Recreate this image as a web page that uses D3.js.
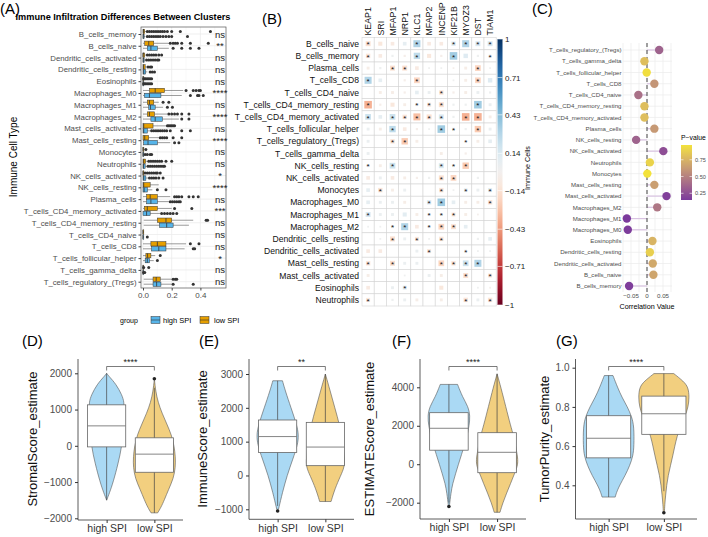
<!DOCTYPE html>
<html>
<head>
<meta charset="utf-8">
<script src="https://cdn.jsdelivr.net/npm/d3@7"></script>
<style>
body { margin: 0; background: #fff; }
svg { font-family: "Liberation Sans", Arial, sans-serif; }
</style>
</head>
<body>
<script>
// ---------- panel A : CIBERSORT boxplots ----------
var aCells = ["B_cells_memory", "B_cells_naive", "Dendritic_cells_activated", "Dendritic_cells_resting", "Eosinophils",
    "Macrophages_M0", "Macrophages_M1", "Macrophages_M2", "Mast_cells_activated", "Mast_cells_resting", "Monocytes",
    "Neutrophils", "NK_cells_activated", "NK_cells_resting", "Plasma_cells", "T_cells_CD4_memory_activated",
    "T_cells_CD4_memory_resting", "T_cells_CD4_naive", "T_cells_CD8", "T_cells_follicular_helper",
    "T_cells_gamma_delta", "T_cells_regulatory_(Tregs)"];
var aSig = ["ns", "**", "ns", "ns", "ns", "****", "ns", "****", "ns", "****", "ns", "ns", "*", "****", "ns", "***",
    "ns", "ns", "ns", "*", "ns", "ns"];
// [lower whisker, q1, median, q3, upper whisker]
var aLowBox = [[0, 0, 0.003, 0.012, 0.02], [0, 0.012, 0.04, 0.075, 0.18], [0, 0, 0, 0.012, 0.02], [0, 0, 0.003, 0.015, 0.025],
    [0, 0, 0, 0, 0], [0, 0.045, 0.085, 0.15, 0.28], [0, 0.03, 0.045, 0.075, 0.11], [0, 0.03, 0.045, 0.08, 0.17],
    [0, 0, 0.005, 0.07, 0.16], [0, 0, 0.012, 0.04, 0.11], [0, 0, 0, 0.006, 0.012], [0, 0, 0.005, 0.018, 0.03],
    [0, 0, 0, 0.006, 0.012], [0, 0, 0.005, 0.05, 0.11], [0, 0.025, 0.05, 0.1, 0.19], [0, 0.01, 0.03, 0.1, 0.2],
    [0.005, 0.1, 0.16, 0.2, 0.35], [0, 0, 0, 0, 0], [0, 0.055, 0.1, 0.16, 0.3], [0, 0.02, 0.032, 0.055, 0.085],
    [0, 0, 0, 0, 0], [0.005, 0.07, 0.092, 0.12, 0.2]];
var aHighBox = [[0, 0, 0.002, 0.008, 0.015], [0, 0.03, 0.055, 0.1, 0.18], [0, 0, 0.002, 0.008, 0.015], [0, 0, 0.005, 0.018, 0.03],
    [0, 0, 0, 0, 0], [0, 0.01, 0.045, 0.125, 0.27], [0, 0.04, 0.052, 0.085, 0.14], [0, 0.055, 0.085, 0.135, 0.25],
    [0, 0, 0.005, 0.03, 0.05], [0, 0.005, 0.035, 0.1, 0.19], [0, 0, 0, 0.005, 0.01], [0, 0, 0.003, 0.015, 0.025],
    [0, 0, 0.005, 0.02, 0.035], [0, 0, 0.008, 0.03, 0.065], [0, 0.025, 0.055, 0.1, 0.18], [0, 0, 0.025, 0.05, 0.12],
    [0.005, 0.115, 0.165, 0.21, 0.32], [0, 0, 0, 0, 0], [0, 0.06, 0.11, 0.16, 0.29], [0, 0.015, 0.03, 0.045, 0.075],
    [0, 0, 0, 0, 0], [0.005, 0.07, 0.095, 0.125, 0.2]];
var aLowOut = [[0.03, 0.045, 0.06, 0.075, 0.09, 0.105, 0.12, 0.135, 0.15, 0.17, 0.2, 0.26, 0.47],
    [0.19, 0.21, 0.225, 0.24, 0.27, 0.33, 0.455], [0.03, 0.045, 0.06, 0.075, 0.09, 0.11, 0.13], [0.035, 0.05, 0.06],
    [0.005, 0.012, 0.02, 0.03, 0.04, 0.05, 0.06], [0.3, 0.35, 0.37, 0.39, 0.4], [0.14, 0.18],
    [0.18, 0.2, 0.22, 0.24, 0.27, 0.32], [0.17, 0.18, 0.19, 0.2, 0.21, 0.22], [0.12, 0.135, 0.15, 0.165, 0.21, 0.27],
    [0.02], [0.04, 0.055, 0.07, 0.085, 0.1, 0.115, 0.13, 0.16, 0.2], [0.015, 0.03, 0.045, 0.06, 0.075, 0.09, 0.1, 0.12],
    [], [0.22, 0.235, 0.25, 0.27, 0.32, 0.35, 0.385], [0.22, 0.34], [0.44, 0.45], [], [0.33, 0.39], [0.12],
    [0.005, 0.04], [0.21, 0.225, 0.235]];
var aHighOut = [[0.03, 0.045, 0.06, 0.075, 0.09, 0.105, 0.12, 0.14, 0.16, 0.18, 0.2, 0.31],
    [0.21, 0.27, 0.33, 0.39], [0.025, 0.04, 0.055, 0.07, 0.085, 0.1, 0.11], [0.05, 0.065, 0.08],
    [0.005, 0.012, 0.02, 0.03, 0.04, 0.05, 0.06], [0.33, 0.38, 0.39, 0.42], [0.17, 0.205], [0.27, 0.32],
    [0.06, 0.075, 0.09, 0.105, 0.12, 0.135, 0.15, 0.165, 0.19, 0.27, 0.33], [0.22, 0.25],
    [0.015, 0.03, 0.05, 0.06], [0.035, 0.05, 0.065, 0.08, 0.095, 0.11, 0.125, 0.14, 0.15],
    [0.045, 0.06, 0.075, 0.09, 0.11, 0.14], [0.1, 0.16], [0.19, 0.205, 0.22, 0.235, 0.25, 0.26],
    [0.13, 0.15, 0.17, 0.19, 0.21, 0.235], [], [0.03], [0.35, 0.36], [0.1], [0.005, 0.012], [0.21, 0.35]];
var aTicks = [0, 0.2, 0.4];

// ---------- panel B : correlation matrix ----------
var bGenes = ["KEAP1", "SRI", "MFAP1", "NRP1", "KLC1", "MFAP2", "INCENP", "KIF21B", "MYOZ3", "DST", "TIAM1"];
var bCells = ["B_cells_naive", "B_cells_memory", "Plasma_cells", "T_cells_CD8", "T_cells_CD4_naive",
    "T_cells_CD4_memory_resting", "T_cells_CD4_memory_activated", "T_cells_follicular_helper",
    "T_cells_regulatory_(Tregs)", "T_cells_gamma_delta", "NK_cells_resting", "NK_cells_activated", "Monocytes",
    "Macrophages_M0", "Macrophages_M1", "Macrophages_M2", "Dendritic_cells_resting", "Dendritic_cells_activated",
    "Mast_cells_resting", "Mast_cells_activated", "Eosinophils", "Neutrophils"];
var bCorr = [
    [-0.15, -0.1, -0.08, 0.08, 0.3, -0.08, -0.08, 0.12, 0.3, 0.15, 0.15],
    [-0.12, -0.08, 0.03, -0.03, 0.25, -0.1, -0.03, 0.35, 0.12, 0.03, 0.05],
    [-0.05, 0.03, -0.15, -0.15, -0.08, 0.02, 0.02, -0.02, -0.05, -0.2, 0.02],
    [0.3, 0.08, 0, -0.03, -0.2, 0, 0, 0.02, -0.05, -0.2, 0.12],
    [0, -0.05, -0.05, -0.03, 0.08, 0.05, -0.12, -0.03, -0.05, 0.05, 0.03],
    [-0.35, -0.03, -0.1, -0.05, 0.05, -0.1, -0.15, 0.03, 0.03, 0.35, 0.05],
    [0.2, 0.08, 0.2, -0.12, -0.3, -0.15, 0.15, 0.03, -0.35, -0.35, -0.05],
    [0.05, -0.05, 0.25, -0.08, -0.03, 0.02, 0.35, 0.05, 0.03, -0.25, 0.05],
    [0.05, 0, -0.12, -0.25, -0.05, 0, 0, 0, 0.03, -0.05, 0.08],
    [0.05, 0, 0, 0, 0, 0, -0.05, 0, -0.03, 0, 0],
    [0.05, -0.05, 0.2, 0, 0, 0, 0.15, 0.05, -0.25, 0, 0],
    [-0.08, 0.05, -0.08, -0.05, -0.03, 0.03, -0.15, -0.2, 0, 0.03, 0],
    [0.08, -0.12, -0.05, 0.05, 0, 0, -0.12, 0.02, 0.08, 0.05, 0.1],
    [0.08, 0.05, 0.05, -0.05, 0, 0.12, 0.35, 0.08, -0.05, -0.05, -0.12],
    [0.15, 0.05, 0.05, 0.1, -0.05, 0.05, 0.05, -0.1, -0.05, -0.02, 0],
    [0.02, 0.02, 0.05, 0.3, -0.08, 0.05, -0.2, -0.15, 0.08, 0, 0],
    [0, 0.02, -0.15, 0.05, -0.1, 0.02, -0.12, 0, 0, 0.03, 0.08],
    [-0.08, -0.08, 0, 0, 0.05, -0.1, 0, 0, 0.05, 0.02, 0.02],
    [-0.12, 0, -0.15, 0.05, 0.05, 0, -0.2, -0.12, 0.2, 0.3, 0],
    [-0.05, 0, 0, 0.02, 0, 0.05, -0.05, 0, -0.15, 0, -0.1],
    [-0.08, 0, 0.05, 0.1, 0, 0, -0.1, 0, 0, 0.02, -0.02],
    [-0.1, 0, 0.03, 0.05, -0.05, 0, -0.05, 0, -0.12, 0.05, -0.12]];
var bStar = [
    [1, 0, 0, 0, 1, 0, 0, 1, 1, 1, 1], [1, 0, 0, 0, 1, 0, 0, 1, 0, 0, 1], [0, 0, 1, 1, 0, 0, 0, 0, 0, 1, 0],
    [1, 0, 0, 0, 1, 0, 0, 0, 0, 1, 0], [0, 0, 0, 0, 0, 0, 1, 0, 0, 0, 0], [1, 0, 0, 0, 1, 1, 1, 0, 0, 1, 0],
    [1, 0, 1, 1, 1, 1, 1, 0, 1, 1, 0], [0, 0, 1, 0, 0, 0, 1, 1, 0, 1, 0], [0, 0, 1, 1, 0, 0, 0, 0, 1, 0, 0],
    [0, 0, 0, 0, 0, 0, 0, 0, 0, 0, 0], [1, 0, 1, 0, 0, 0, 1, 1, 1, 0, 0], [0, 0, 0, 0, 0, 0, 1, 1, 0, 0, 0],
    [0, 1, 0, 0, 0, 0, 1, 0, 1, 0, 1], [0, 0, 0, 0, 0, 1, 1, 0, 0, 0, 1], [1, 0, 0, 0, 0, 1, 1, 1, 0, 0, 0],
    [0, 0, 1, 1, 0, 1, 1, 1, 0, 0, 0], [0, 0, 1, 0, 1, 0, 1, 0, 0, 0, 0], [0, 0, 0, 0, 0, 1, 0, 0, 1, 0, 0],
    [1, 0, 1, 0, 0, 0, 1, 1, 1, 1, 0], [0, 0, 0, 0, 0, 0, 0, 0, 1, 0, 1], [0, 0, 0, 1, 0, 0, 0, 0, 0, 0, 0],
    [1, 0, 0, 0, 0, 0, 0, 0, 1, 0, 1]];
var bBarTicks = [1, 0.71, 0.43, 0.14, -0.14, -0.43, -0.71, -1];

// ---------- panel C : lollipop ----------
var cCells = ["T_cells_regulatory_(Tregs)", "T_cells_gamma_delta", "T_cells_follicular_helper", "T_cells_CD8",
    "T_cells_CD4_naive", "T_cells_CD4_memory_resting", "T_cells_CD4_memory_activated", "Plasma_cells",
    "NK_cells_resting", "NK_cells_activated", "Neutrophils", "Monocytes", "Mast_cells_resting",
    "Mast_cells_activated", "Macrophages_M2", "Macrophages_M1", "Macrophages_M0", "Eosinophils",
    "Dendritic_cells_resting", "Dendritic_cells_activated", "B_cells_naive", "B_cells_memory"];
var cCorr = [0.038, -0.008, -0.001, 0.023, -0.027, -0.008, -0.008, 0.023, -0.034, 0.051, 0.009, 0.001, 0.023,
    0.061, 0.032, -0.063, -0.06, 0.017, 0.009, 0.018, 0.02, -0.056];
var cPval = [0.35, 0.8, 0.95, 0.6, 0.42, 0.8, 0.8, 0.62, 0.35, 0.25, 0.9, 0.97, 0.65, 0.18, 0.45, 0.15, 0.16,
    0.75, 0.88, 0.7, 0.68, 0.17];
var cTicks = [-0.05, 0, 0.05];
var cLegTicks = [0.75, 0.5, 0.25];

// ---------- panels D-G : ESTIMATE violins ----------
var groups = ["high SPI", "low SPI"];
// [value, relative density]
var dHighDens = [[2000, 0], [1900, 0.13], [1700, 0.43], [1400, 0.7], [1200, 0.8], [1000, 0.78], [500, 0.76], [0, 0.7],
    [-500, 0.52], [-1000, 0.3], [-1300, 0.13], [-1500, 0]];
var dLowDens = [[1850, 0], [1500, 0.06], [1200, 0.17], [900, 0.35], [600, 0.57], [300, 0.78], [0, 0.9], [-300, 0.96],
    [-600, 0.96], [-900, 0.87], [-1200, 0.65], [-1500, 0.45], [-1700, 0.3], [-1850, 0.15]];
var eHighDens = [[2800, 0.22], [2500, 0.35], [2000, 0.61], [1500, 0.87], [1200, 0.96], [900, 0.91], [500, 0.7],
    [0, 0.43], [-500, 0.22], [-1000, 0.04]];
var eLowDens = [[3000, 0], [2500, 0.22], [2000, 0.43], [1500, 0.65], [1000, 0.78], [500, 0.87], [250, 0.87],
    [0, 0.7], [-400, 0.43], [-770, 0.26]];
var fHighDens = [[4150, 0.39], [3500, 0.61], [3000, 0.87], [2500, 0.96], [2000, 0.91], [1500, 0.83], [1000, 0.7],
    [500, 0.57], [0, 0.43], [-500, 0.3], [-1000, 0.17], [-1500, 0.09], [-2200, 0.02]];
var fLowDens = [[4700, 0], [4000, 0.17], [3000, 0.39], [2000, 0.61], [1500, 0.74], [1000, 0.83], [500, 0.91],
    [0, 0.96], [-500, 0.78], [-1000, 0.61], [-1500, 0.43], [-2000, 0.26], [-2500, 0.13]];
var gHighDens = [[0.96, 0.17], [0.9, 0.35], [0.85, 0.52], [0.8, 0.74], [0.75, 0.91], [0.7, 1], [0.6, 1], [0.55, 0.96],
    [0.5, 0.83], [0.45, 0.65], [0.4, 0.43], [0.36, 0.3], [0.34, 0.26]];
var gLowDens = [[0.97, 0.39], [0.93, 0.78], [0.9, 0.96], [0.85, 1], [0.8, 0.96], [0.75, 0.83], [0.7, 0.65],
    [0.65, 0.52], [0.6, 0.43], [0.55, 0.35], [0.5, 0.26], [0.45, 0.17], [0.4, 0.11], [0.35, 0.07], [0.3, 0.035],
    [0.26, 0.02]];
// [lower whisker, q1, median, q3, upper whisker]
var dBoxes = [[-1500, -30, 550, 1130, 2000], [-1850, -730, -230, 220, 1600]];
var eBoxes = [[-900, 680, 1150, 1640, 2800], [-770, 290, 840, 1570, 3000]];
var fBoxes = [[-2000, 730, 1870, 2680, 4150], [-2500, -440, 620, 1640, 4700]];
var gBoxes = [[0.34, 0.54, 0.64, 0.755, 0.96], [0.37, 0.66, 0.765, 0.855, 0.97]];
var dOut = [[], [1850]];
var eOut = [[-1050], []];
var fOut = [[-2200], []];
var gOut = [[], [0.26]];
var sigDEFG = ["****", "**", "****", "****"];

var highCol = "#56B4E9", lowCol = "#E69F00";
var svg = d3.select('body').append('svg').attr('width', 708).attr('height', 537);

// ================= Panel A =================
var gA = svg.append('g');
var aX = d3.scaleLinear().domain([0, 0.4]).range([143, 200.4]);
var aY = d3.scalePoint().domain(aCells).range([34, 281.7]);
var aL = 141, aR = 226, aT = 27, aB = 288;

gA.selectAll('.vgrid').data([0.1, 0.3, 0.5]).enter().append('line')
    .attr('x1', d => aX(d)).attr('x2', d => aX(d)).attr('y1', aT).attr('y2', aB)
    .attr('stroke', '#f2f2f2').attr('stroke-width', 0.5);
gA.selectAll('.vgrid2').data(aTicks).enter().append('line')
    .attr('x1', d => aX(d)).attr('x2', d => aX(d)).attr('y1', aT).attr('y2', aB)
    .attr('stroke', '#ebebeb').attr('stroke-width', 0.8);
gA.selectAll('.hgrid').data(aCells).enter().append('line')
    .attr('x1', aL).attr('x2', aR).attr('y1', d => aY(d)).attr('y2', d => aY(d))
    .attr('stroke', '#ebebeb').attr('stroke-width', 0.8);

function drawABox(stats, outs, y, fill) {
    var h = 4.4;
    gA.append('line').attr('x1', aX(stats[0])).attr('x2', aX(stats[1])).attr('y1', y).attr('y2', y)
        .attr('stroke', '#555').attr('stroke-width', 0.6);
    gA.append('line').attr('x1', aX(stats[3])).attr('x2', aX(stats[4])).attr('y1', y).attr('y2', y)
        .attr('stroke', '#555').attr('stroke-width', 0.6);
    gA.append('rect').attr('x', aX(stats[1])).attr('y', y - h / 2)
        .attr('width', Math.max(aX(stats[3]) - aX(stats[1]), 0.8)).attr('height', h)
        .attr('fill', fill).attr('stroke', '#333').attr('stroke-width', 0.5);
    gA.append('line').attr('x1', aX(stats[2])).attr('x2', aX(stats[2])).attr('y1', y - h / 2).attr('y2', y + h / 2)
        .attr('stroke', '#333').attr('stroke-width', 0.8);
    gA.append('g').selectAll('circle').data(outs).enter().append('circle')
        .attr('cx', d => aX(d)).attr('cy', y).attr('r', 1.5).attr('fill', '#333');
}
aCells.forEach(function (c, i) {
    drawABox(aLowBox[i], aLowOut[i], aY(c) - 2.5, lowCol);
    drawABox(aHighBox[i], aHighOut[i], aY(c) + 2.5, highCol);
});
gA.append('rect').attr('x', aL).attr('y', aT).attr('width', aR - aL).attr('height', aB - aT)
    .attr('fill', 'none').attr('stroke', '#555').attr('stroke-width', 0.7);
gA.selectAll('.sig').data(aSig).enter().append('text')
    .attr('x', 220).attr('y', (d, i) => aY(aCells[i]) + 3.5)
    .attr('text-anchor', 'middle').attr('font-size', 9.5).style('fill', '#222').text(d => d);
var aLeft = gA.append('g').attr('transform', 'translate(' + aL + ',0)').call(d3.axisLeft(aY).tickSize(2.5).tickPadding(2));
aLeft.select('.domain').remove();
aLeft.attr('font-family', null).attr('fill', null);
aLeft.selectAll('text').attr('font-size', 7.8).style('fill', '#4d4d4d');
aLeft.selectAll('line').style('stroke', '#444');
var aBottom = gA.append('g').attr('transform', 'translate(0,' + aB + ')')
    .call(d3.axisBottom(aX).tickValues(aTicks).tickFormat(d3.format('.1f')).tickSize(2.5).tickPadding(2));
aBottom.select('.domain').remove();
aBottom.attr('font-family', null).attr('fill', null);
aBottom.selectAll('text').attr('font-size', 8).style('fill', '#4d4d4d');
aBottom.selectAll('line').style('stroke', '#444');
gA.append('text').attr('transform', 'translate(17,157) rotate(-90)').attr('text-anchor', 'middle')
    .attr('font-size', 10).text('Immune Cell Type');
gA.append('text').attr('x', 123).attr('y', 20).attr('text-anchor', 'middle').attr('font-size', 9.2)
    .attr('font-weight', 'bold').text('Immune Infiltration Differences Between Clusters');
svg.append('text').attr('x', 0).attr('y', 14).attr('font-size', 15).text('(A)');

// legend
var leg = svg.append('g');
leg.append('text').attr('x', 120).attr('y', 323).attr('font-size', 7).text('group');
[[highCol, 151, 'high SPI', 163], [lowCol, 200, 'low SPI', 214]].forEach(function (k) {
    leg.append('rect').attr('x', k[1]).attr('y', 316.5).attr('width', 9).attr('height', 7)
        .attr('fill', k[0]).attr('stroke', '#333').attr('stroke-width', 0.5);
    leg.append('line').attr('x1', k[1]).attr('x2', k[1] + 9).attr('y1', 320).attr('y2', 320)
        .attr('stroke', '#333').attr('stroke-width', 0.6);
    leg.append('text').attr('x', k[3]).attr('y', 323).attr('font-size', 7.5).text(k[2]);
});

// ================= Panel B =================
var gB = svg.append('g');
var bX = d3.scaleBand().domain(bGenes).range([362, 496.2]);
var bY = d3.scaleBand().domain(bCells).range([37.6, 306]);
var bSize = d3.scaleSqrt().domain([0, 1]).range([0, bX.bandwidth() * 1.05]);
function bColor(r) { return d3.interpolateRdBu((r + 1) / 2); }
var cells = [];
bCells.forEach(function (c, i) {
    bGenes.forEach(function (g, j) { cells.push({ c: c, g: g, r: bCorr[i][j], s: bStar[i][j] }); });
});
gB.selectAll('.cell').data(cells).enter().append('rect')
    .attr('x', d => bX(d.g)).attr('y', d => bY(d.c)).attr('width', bX.bandwidth()).attr('height', bY.bandwidth())
    .attr('fill', '#fff').attr('stroke', '#d4d4d4').attr('stroke-width', 0.6);
gB.selectAll('.sq').data(cells).enter().append('rect')
    .attr('x', d => bX(d.g) + bX.bandwidth() / 2 - Math.min(bSize(Math.abs(d.r)), bX.bandwidth() - 1) / 2)
    .attr('y', d => bY(d.c) + bY.bandwidth() / 2 - Math.min(bSize(Math.abs(d.r)), bX.bandwidth() - 1) / 2)
    .attr('width', d => Math.min(bSize(Math.abs(d.r)), bX.bandwidth() - 1))
    .attr('height', d => Math.min(bSize(Math.abs(d.r)), bX.bandwidth() - 1))
    .attr('fill', d => bColor(d.r));
gB.selectAll('.star').data(cells.filter(d => d.s)).enter().append('text')
    .attr('x', d => bX(d.g) + bX.bandwidth() / 2).attr('y', d => bY(d.c) + bY.bandwidth() / 2 + 3.6)
    .attr('text-anchor', 'middle').attr('font-size', 8).attr('fill', '#111').text('*');
gB.selectAll('.rowlab').data(bCells).enter().append('text')
    .attr('x', 359).attr('y', d => bY(d) + bY.bandwidth() / 2 + 3)
    .attr('text-anchor', 'end').attr('font-size', 8.6).attr('fill', '#111').text(d => d);
gB.selectAll('.collab').data(bGenes).enter().append('text')
    .attr('transform', d => 'translate(' + (bX(d) + bX.bandwidth() / 2 + 3.2) + ',35.5) rotate(-90)')
    .attr('font-size', 8.8).attr('fill', '#111').text(d => d);
// colour bar
var defs = svg.append('defs');
var bGrad = defs.append('linearGradient').attr('id', 'bgrad').attr('x1', 0).attr('x2', 0).attr('y1', 1).attr('y2', 0);
d3.range(0, 1.0001, 0.05).forEach(function (t) {
    bGrad.append('stop').attr('offset', t).attr('stop-color', bColor(t * 2 - 1));
});
var bBarY = d3.scaleLinear().domain([-1, 1]).range([305, 39]);
gB.append('rect').attr('x', 497.5).attr('y', bBarY(1)).attr('width', 5).attr('height', bBarY(-1) - bBarY(1))
    .attr('fill', 'url(#bgrad)');
gB.selectAll('.btick').data(bBarTicks).enter().append('line')
    .attr('x1', 497.5).attr('x2', 502.5).attr('y1', d => bBarY(d)).attr('y2', d => bBarY(d))
    .attr('stroke', '#fff').attr('stroke-width', 0.6);
gB.selectAll('.blab').data(bBarTicks).enter().append('text')
    .attr('x', 505).attr('y', d => bBarY(d) + 3).attr('font-size', 8).attr('fill', '#222')
    .text(d => d3.format('')(d).replace('-', '\u2212'));
svg.append('text').attr('x', 262).attr('y', 24).attr('font-size', 15).text('(B)');

// ================= Panel C =================
var gC = svg.append('g');
var cX = d3.scaleLinear().domain([-0.05, 0.05]).range([631, 663]);
var cY = d3.scalePoint().domain(cCells).range([50, 286]);
var cColor = d3.scaleLinear().domain([0.15, 0.97]).range(['#7b3a9c', '#f3e23a']).interpolate(d3.interpolateLab);
var cL = 623, cR = 672, cT = 43, cB = 292;
gC.selectAll('.vg').data([-0.075, -0.05, -0.025, 0, 0.025, 0.05, 0.075].filter(d => cX(d) >= cL && cX(d) <= cR))
    .enter().append('line')
    .attr('x1', d => cX(d)).attr('x2', d => cX(d)).attr('y1', cT).attr('y2', cB)
    .attr('stroke', '#ebebeb').attr('stroke-width', 0.7);
gC.selectAll('.hg').data(cCells).enter().append('line')
    .attr('x1', cL).attr('x2', cR).attr('y1', d => cY(d)).attr('y2', d => cY(d))
    .attr('stroke', '#ebebeb').attr('stroke-width', 0.7);
gC.selectAll('.seg').data(cCells).enter().append('line')
    .attr('x1', cX(0)).attr('x2', (d, i) => cX(cCorr[i])).attr('y1', d => cY(d)).attr('y2', d => cY(d))
    .attr('stroke', '#d9c3e2').attr('stroke-width', 1.2);
gC.append('line').attr('x1', cX(0)).attr('x2', cX(0)).attr('y1', cT).attr('y2', cB)
    .attr('stroke', '#444').attr('stroke-width', 1).attr('stroke-dasharray', '4,3');
gC.selectAll('.pt').data(cCells).enter().append('circle')
    .attr('cx', (d, i) => cX(cCorr[i])).attr('cy', d => cY(d)).attr('r', 4.2)
    .attr('fill', (d, i) => cColor(cPval[i]));
gC.selectAll('.clab').data(cCells).enter().append('text')
    .attr('x', 621.5).attr('y', d => cY(d) + 2.2).attr('text-anchor', 'end')
    .attr('font-size', 6.1).attr('fill', '#4d4d4d').text(d => d);
gC.selectAll('.cxt').data(cTicks).enter().append('text')
    .attr('x', d => cX(d)).attr('y', 298).attr('text-anchor', 'middle')
    .attr('font-size', 6.2).attr('fill', '#4d4d4d').text(d => d3.format('')(d).replace('-', '\u2212'));
gC.append('text').attr('x', 647).attr('y', 309).attr('text-anchor', 'middle').attr('font-size', 7.2)
    .text('Correlation Value');
gC.append('text').attr('transform', 'translate(530,168) rotate(-90)').attr('text-anchor', 'middle')
    .attr('font-size', 7.2).text('Immune Cells');
// p-value legend
var cLegY = d3.scaleLinear().domain([0.15, 0.97]).range([200, 145]);
var cGrad = defs.append('linearGradient').attr('id', 'cgrad').attr('x1', 0).attr('x2', 0).attr('y1', 1).attr('y2', 0);
d3.range(0, 1.0001, 0.1).forEach(function (t) {
    cGrad.append('stop').attr('offset', t).attr('stop-color', cColor(0.15 + t * 0.82));
});
gC.append('text').attr('x', 681).attr('y', 140).attr('font-size', 6.8).text('P\u2212value');
gC.append('rect').attr('x', 681).attr('y', 145).attr('width', 11).attr('height', 55).attr('fill', 'url(#cgrad)');
gC.selectAll('.clt').data(cLegTicks).enter().append('line')
    .attr('x1', 681).attr('x2', 683.5).attr('y1', d => cLegY(d)).attr('y2', d => cLegY(d))
    .attr('stroke', '#fff').attr('stroke-width', 0.6);
gC.selectAll('.clt2').data(cLegTicks).enter().append('line')
    .attr('x1', 689.5).attr('x2', 692).attr('y1', d => cLegY(d)).attr('y2', d => cLegY(d))
    .attr('stroke', '#fff').attr('stroke-width', 0.6);
gC.selectAll('.cll').data(cLegTicks).enter().append('text')
    .attr('x', 695).attr('y', d => cLegY(d) + 2).attr('font-size', 5.6).attr('fill', '#4d4d4d')
    .text(d => d3.format('.2f')(d));
svg.append('text').attr('x', 532).attr('y', 14).attr('font-size', 15).text('(C)');

// ================= Panels D-G =================
function violinPanel(cfg) {
    var g = svg.append('g');
    var x = d3.scalePoint().domain(groups).range([cfg.x0, cfg.x1]).padding(0.6);
    var y = d3.scaleLinear().domain(cfg.domain).range(cfg.range);
    var step = x.step();
    var w = d3.scaleLinear().domain([0, 1]).range([0, step * 0.46]);
    var bw = step * 0.4;
    var cols = [highCol, lowCol];
    [cfg.highDens, cfg.lowDens].forEach(function (dens, k) {
        var cx = x(groups[k]);
        var area = d3.area().curve(d3.curveBasis)
            .y(d => y(d[0])).x0(d => cx - w(d[1])).x1(d => cx + w(d[1]));
        g.append('path').attr('d', area(dens)).attr('fill', cols[k]).attr('fill-opacity', 0.5)
            .attr('stroke', '#555').attr('stroke-width', 0.6);
        var b = cfg.boxes[k];
        g.append('line').attr('x1', cx).attr('x2', cx).attr('y1', y(b[0])).attr('y2', y(b[4]))
            .attr('stroke', '#444').attr('stroke-width', 0.7);
        g.append('rect').attr('x', cx - bw).attr('y', y(b[3])).attr('width', bw * 2).attr('height', y(b[1]) - y(b[3]))
            .attr('fill', '#fff').attr('stroke', '#666').attr('stroke-width', 0.8);
        g.append('line').attr('x1', cx - bw).attr('x2', cx + bw).attr('y1', y(b[2])).attr('y2', y(b[2]))
            .attr('stroke', '#777').attr('stroke-width', 0.9);
        g.append('g').selectAll('circle').data(cfg.outs[k]).enter().append('circle')
            .attr('cx', cx).attr('cy', d => y(d)).attr('r', 1.8).attr('fill', '#222');
    });
    // axes
    var yAx = g.append('g').attr('transform', 'translate(' + cfg.x0 + ',0)')
        .call(d3.axisLeft(y).tickValues(cfg.ticks).tickFormat(cfg.fmt).tickSize(3).tickPadding(3));
    yAx.select('.domain').remove();
    yAx.attr('font-family', null).attr('fill', null);
    yAx.selectAll('text').attr('font-size', 10).style('fill', '#4d4d4d');
    yAx.selectAll('line').style('stroke', '#333');
    g.append('line').attr('x1', cfg.x0).attr('x2', cfg.x0).attr('y1', 359).attr('y2', cfg.axisY)
        .attr('stroke', '#333').attr('stroke-width', 0.8);
    var xAx = g.append('g').attr('transform', 'translate(0,' + cfg.axisY + ')')
        .call(d3.axisBottom(x).tickSize(3).tickPadding(2));
    xAx.select('.domain').remove();
    xAx.attr('font-family', null).attr('fill', null);
    xAx.selectAll('text').attr('font-size', 10.5).style('fill', '#333');
    xAx.selectAll('line').style('stroke', '#333');
    g.append('line').attr('x1', cfg.x0).attr('x2', cfg.x1).attr('y1', cfg.axisY).attr('y2', cfg.axisY)
        .attr('stroke', '#333').attr('stroke-width', 0.8);
    // bracket
    var x1 = x(groups[0]), x2 = x(groups[1]);
    g.append('path').attr('d', 'M' + x1 + ',370.5V366.5H' + x2 + 'V370.5')
        .attr('fill', 'none').attr('stroke', '#444').attr('stroke-width', 0.7);
    g.append('text').attr('x', (x1 + x2) / 2).attr('y', 364.5).attr('text-anchor', 'middle')
        .attr('font-size', 9).attr('fill', '#222').text(cfg.sig);
    g.append('text').attr('transform', 'translate(' + cfg.titleX + ',439) rotate(-90)')
        .attr('text-anchor', 'middle').attr('font-size', 13).attr('fill', '#111').text(cfg.title);
    svg.append('text').attr('x', cfg.labX).attr('y', 346).attr('font-size', 15).text(cfg.lab);
}

violinPanel({ x0: 78, x1: 183, domain: [-2000, 2000], range: [518.3, 373.3], axisY: 520,
    ticks: [-2000, -1000, 0, 1000, 2000], fmt: d3.format('d'), highDens: dHighDens, lowDens: dLowDens,
    boxes: dBoxes, outs: dOut, sig: sigDEFG[0], title: 'StromalScore_estimate', titleX: 37, lab: '(D)', labX: 22 });
violinPanel({ x0: 249, x1: 354, domain: [-1000, 3000], range: [509.3, 374], axisY: 519.3,
    ticks: [-1000, 0, 1000, 2000, 3000], fmt: d3.format('d'), highDens: eHighDens, lowDens: eLowDens,
    boxes: eBoxes, outs: eOut, sig: sigDEFG[1], title: 'ImmuneScore_estimate', titleX: 207, lab: '(E)', labX: 199 });
violinPanel({ x0: 420, x1: 526, domain: [-2000, 4000], range: [502.7, 387.3], axisY: 519,
    ticks: [-2000, 0, 2000, 4000], fmt: d3.format('d'), highDens: fHighDens, lowDens: fLowDens,
    boxes: fBoxes, outs: fOut, sig: sigDEFG[2], title: 'ESTIMATEScore_estimate', titleX: 374, lab: '(F)', labX: 392 });
violinPanel({ x0: 575.5, x1: 697, domain: [0.4, 1.0], range: [485.3, 367.7], axisY: 519,
    ticks: [0.4, 0.6, 0.8, 1.0], fmt: d3.format('.1f'), highDens: gHighDens, lowDens: gLowDens,
    boxes: gBoxes, outs: gOut, sig: sigDEFG[3], title: 'TumorPurity_estimate', titleX: 549, lab: '(G)', labX: 556 });
</script>
</body>
</html>
